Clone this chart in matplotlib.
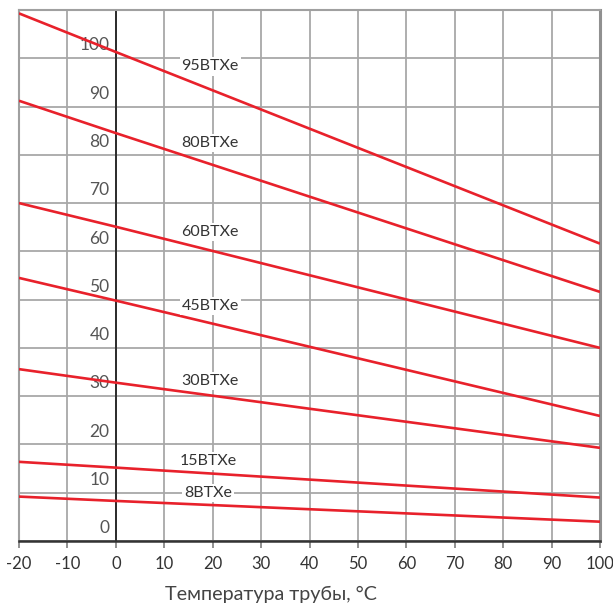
import matplotlib.pyplot as plt
import numpy as np

plt.rcParams['font.family'] = ['Lato', 'DejaVu Sans']

# temperature points where values were read (°C)
temp = [-20, 0, 100]

# values for each series at the points above
series_names = ["95BTXe", "80BTXe", "60BTXe", "45BTXe", "30BTXe", "15BTXe", "8BTXe"]
series_values = [
    [109.3, 101.3, 61.6],
    [91.2, 84.5, 51.6],
    [70.0, 65.1, 40.0],
    [54.5, 49.8, 25.9],
    [35.6, 32.8, 19.3],
    [16.4, 15.2, 9.0],
    [9.2, 8.3, 4.0],
]
# label anchor points (x, y) for each series
label_x = [19.5, 19.5, 19.5, 19.5, 19.5, 19.0, 19.0]
label_y = [98.3, 82.4, 64.0, 48.6, 33.1, 16.6, 9.9]

x_ticks = list(range(-20, 101, 10))
y_ticks = list(range(0, 101, 10))

fig = plt.figure(figsize=(6.13, 6.04), dpi=100)
ax = fig.add_axes([19 / 613, 1 - 541 / 604, 581 / 613, 531 / 604])

ax.set_xlim(-20, 100)
ax.set_ylim(0, 110)

# grid
for xv in x_ticks:
    ax.axvline(xv, color="#a8a8a8", lw=1.3, zorder=1)
for yv in range(0, 111, 10):
    ax.axhline(yv, color="#a8a8a8", lw=1.3, zorder=1)

# y axis at x=0
ax.axvline(0, color="#222222", lw=1.3, zorder=2)

# series lines
for vals in series_values:
    ax.plot(temp, vals, color="#e8212b", lw=1.9, zorder=3, solid_capstyle="butt")

# series labels with white background
for name, lx, ly in zip(series_names, label_x, label_y):
    ax.text(lx, ly, name, ha="center", va="center", fontsize=11.5, color="#333333",
            bbox=dict(facecolor="white", edgecolor="none", pad=1.5), zorder=4)

# y tick labels inside the plot, just above gridlines
for yv in y_ticks:
    ax.text(-1.3, yv + 1.0, str(yv), ha="right", va="bottom", fontsize=12.5,
            color="#555555", zorder=2)

# spines
for s in ["left", "top"]:
    ax.spines[s].set_color("#a0a0a0")
    ax.spines[s].set_linewidth(1.5)
ax.spines["right"].set_color("#909090")
ax.spines["right"].set_linewidth(2.2)
ax.spines["bottom"].set_color("#333333")
ax.spines["bottom"].set_linewidth(1.8)

ax.set_xticks(x_ticks)
ax.set_xticklabels([str(v) for v in x_ticks], fontsize=12, color="#333333")
ax.tick_params(axis="x", length=5, width=1.3, color="#888888", pad=6)
ax.set_yticks([])

fig.text(271 / 613, 1 - 594 / 604, "Температура трубы, °C", ha="center", va="center",
         fontsize=14.2, color="#444444")

fig.savefig("out.png", dpi=100)
